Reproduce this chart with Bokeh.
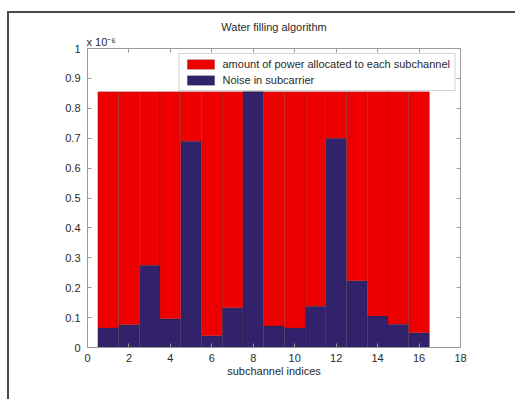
from bokeh.plotting import figure
from bokeh.models import Range1d, LinearAxis, Legend, LegendItem, Title, FixedTicker, ColumnDataSource
from bokeh.embed import file_html
from bokeh.resources import INLINE

# values in units of 1e-6
subchannels = list(range(1, 17))
noise = [0.065, 0.076, 0.275, 0.096, 0.690, 0.039, 0.133, 0.855,
         0.072, 0.065, 0.138, 0.700, 0.223, 0.105, 0.078, 0.049]
power = [0.790, 0.779, 0.580, 0.759, 0.165, 0.816, 0.722, 0.000,
         0.783, 0.790, 0.717, 0.155, 0.632, 0.750, 0.777, 0.806]
x_ticks = [0, 2, 4, 6, 8, 10, 12, 14, 16, 18]
y_ticks = [0, 0.1, 0.2, 0.3, 0.4, 0.5, 0.6, 0.7, 0.8, 0.9, 1.0]
y_tick_labels = ["0", "0.1", "0.2", "0.3", "0.4", "0.5", "0.6", "0.7", "0.8", "0.9", "1"]
title_text = "Water filling algorithm"
scale_text = "x 10\u207b\u2076"
x_label = "subchannel indices"
legend_labels = ["amount of power allocated to each subchannel", "Noise in subcarrier"]

FONT = "Liberation Sans"
TXT = "#2a2a2a"
AX = "#9a9a9a"
RED = "#ee0000"
BLUE = "#31226b"

src = ColumnDataSource(dict(x=subchannels, noise=noise, power=power))

p = figure(width=508, height=388, output_backend="svg", toolbar_location=None,
           x_range=Range1d(0, 18), y_range=Range1d(0, 1), title=title_text,
           min_border_left=78, min_border_right=57, min_border_top=35, min_border_bottom=54)
p.styles = {"border-top": "2px solid #4a4a4a", "border-left": "2px solid #4a4a4a",
            "margin-top": "11px", "margin-left": "7px"}
p.background_fill_color = "white"
p.border_fill_color = "white"
p.outline_line_color = None
p.xgrid.visible = False
p.ygrid.visible = False

p.title.align = "center"
p.title.text_font = FONT
p.title.text_font_size = "11px"
p.title.text_font_style = "normal"
p.title.text_color = TXT
p.title.standoff = 0

rs = p.vbar_stack(["noise", "power"], x="x", width=1.0, source=src,
                  color=[BLUE, RED], line_color="#222222", line_alpha=0.35, line_width=0.6)

def style_axis(ax, labels=True):
    ax.axis_line_color = AX
    ax.major_tick_line_color = AX
    ax.minor_tick_line_color = None
    ax.major_tick_in = 4
    ax.major_tick_out = 0
    ax.major_label_text_font = FONT
    ax.major_label_text_font_size = "11px"
    ax.major_label_text_color = TXT if labels else None
    ax.axis_label_text_font = FONT
    ax.axis_label_text_font_size = "11px"
    ax.axis_label_text_font_style = "normal"
    ax.axis_label_text_color = TXT

xa = p.xaxis[0]
xa.ticker = FixedTicker(ticks=x_ticks)
xa.axis_label = x_label
xa.major_label_standoff = 6
xa.axis_label_standoff = 0
style_axis(xa)

ya = p.yaxis[0]
ya.ticker = FixedTicker(ticks=y_ticks)
ya.major_label_overrides = {t: l for t, l in zip(y_ticks, y_tick_labels)}
ya.major_label_standoff = 7
style_axis(ya)

top = LinearAxis(ticker=FixedTicker(ticks=x_ticks))
style_axis(top, labels=False)
top.major_label_text_font_size = "0px"
top.major_label_standoff = 0
p.add_layout(top, "above")
right = LinearAxis(ticker=FixedTicker(ticks=y_ticks))
style_axis(right, labels=False)
right.major_label_text_font_size = "0px"
right.major_label_standoff = 0
p.add_layout(right, "right")

scale_title = Title(text=scale_text, align="left", offset=-1, standoff=2,
                    text_font=FONT, text_font_size="11px", text_font_style="normal",
                    text_color=TXT)
p.add_layout(scale_title, "above")

legend = Legend(items=[LegendItem(label=legend_labels[0], renderers=[rs[1]]),
                       LegendItem(label=legend_labels[1], renderers=[rs[0]])],
                location="top_right", margin=5, padding=4, spacing=4,
                glyph_width=34, glyph_height=12, label_height=12, label_standoff=5,
                label_text_font=FONT, label_text_font_size="11px", label_text_color=TXT,
                border_line_color="#aaaaaa", border_line_width=1, background_fill_color="white")
p.add_layout(legend)

open("out.html", "w").write(file_html(p, INLINE))
